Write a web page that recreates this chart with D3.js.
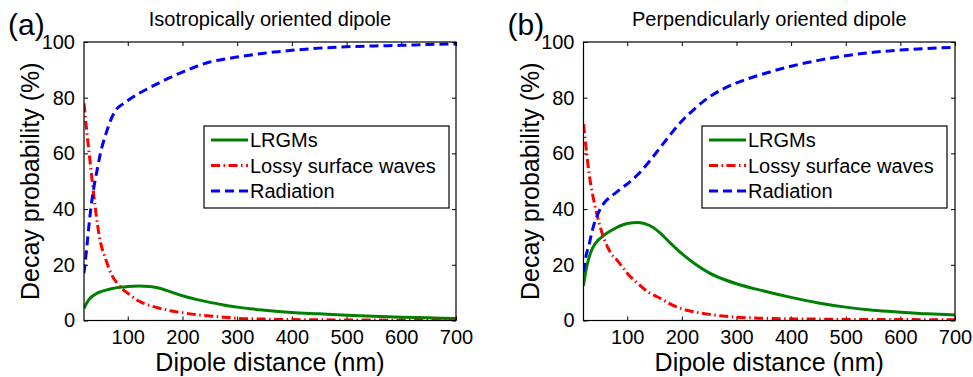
<!DOCTYPE html>
<html>
<head>
<meta charset="utf-8">
<script src="https://cdn.jsdelivr.net/npm/d3@7"></script>
<style>
  html, body { margin: 0; padding: 0; background: #fff; }
  svg { display: block; font-family: "Liberation Sans", Arial, sans-serif; }
</style>
</head>
<body>
<svg id="chart" width="973" height="377"></svg>
<script>
// ---------- data ----------
const distance = [20, 25, 30, 35, 40, 45, 50, 60, 70, 80, 90, 100, 120, 140, 160, 180, 200, 225, 250, 275, 300, 350, 400, 450, 500, 550, 600, 650, 700];

const isoLRGM  = [4.4, 6.3, 7.7, 8.7, 9.3, 9.9, 10.3, 10.9, 11.4, 11.8, 12.0, 12.2, 12.4, 12.2, 11.5, 10.2, 8.9, 7.6, 6.5, 5.6, 4.8, 3.7, 2.9, 2.4, 1.9, 1.5, 1.2, 0.95, 0.7];
const isoLossy = [78, 68, 59, 50, 41.5, 34, 28.3, 21.8, 16.6, 13.5, 11.4, 9.8, 7.0, 5.4, 4.3, 3.4, 2.8, 2.1, 1.6, 1.2, 0.8, 0.5, 0.35, 0.25, 0.2, 0.15, 0.1, 0.1, 0.1];
const isoRad   = [17, 26, 36, 44, 50, 55, 60, 67, 72.5, 76, 77.6, 79, 81.5, 83.6, 85.6, 87.5, 89.2, 91.2, 92.8, 93.8, 94.6, 96, 97, 97.8, 98.3, 98.6, 98.8, 99.1, 99.3];

const perpLRGM  = [12.5, 18.5, 22.5, 25.3, 27.2, 28.5, 29.4, 31, 32.2, 33.3, 34.2, 34.8, 35.2, 34.2, 31.5, 27.6, 24.0, 20.2, 17.1, 14.9, 13.2, 10.6, 8.3, 6.3, 4.8, 3.7, 3.0, 2.4, 2.0];
const perpLossy = [70.5, 61.5, 53, 47, 42, 37.8, 34, 28.2, 24.2, 22, 19.5, 17, 13.2, 10, 8, 5.8, 4.2, 3.0, 2.2, 1.6, 1.2, 0.8, 0.6, 0.5, 0.4, 0.4, 0.35, 0.3, 0.3];
const perpRad   = [17.5, 23.5, 27, 31.5, 35, 37.6, 39.8, 42.7, 44.5, 46, 47.6, 49, 52.5, 57, 62, 67, 71.6, 76.3, 80.2, 83.1, 85.3, 88.6, 91.3, 93.4, 95.1, 96.3, 97.1, 97.7, 98.1];

const xTicks = [100, 200, 300, 400, 500, 600, 700];
const yTicks = [0, 20, 40, 60, 80, 100];
const panelTags = ["(a)", "(b)"];
const panelTitles = ["Isotropically oriented dipole", "Perpendicularly oriented dipole"];
const seriesNames = ["LRGMs", "Lossy surface waves", "Radiation"];
const seriesColors = ["#008000", "#ff0000", "#0000ff"];
const xLabel = "Dipole distance (nm)";
const yLabel = "Decay probability (%)";

// ---------- layout ----------
const svg = d3.select("#chart");
const panels = [
  { left: 84, right: 456, series: [isoLRGM, isoLossy, isoRad], legendX: 204 },
  { left: 583.5, right: 955, series: [perpLRGM, perpLossy, perpRad], legendX: 702 }
];
const plotTop = 42, plotBottom = 320.5;
const dashes = [null, "9,3.5,1.5,3.5", "9,5"];

panels.forEach((p, i) => {
  const x = d3.scaleLinear().domain([20, 700]).range([p.left, p.right]);
  const y = d3.scaleLinear().domain([0, 100]).range([plotBottom, plotTop]);
  const g = svg.append("g");

  const clipId = "clip" + i;
  svg.append("clipPath").attr("id", clipId)
    .append("rect").attr("x", p.left).attr("y", plotTop)
    .attr("width", p.right - p.left).attr("height", plotBottom - plotTop);

  const tickLen = 4;
  const bottomAx = d3.axisBottom(x).tickValues(xTicks).tickSizeInner(-tickLen).tickSizeOuter(0).tickPadding(9);
  const topAx = d3.axisTop(x).tickValues(xTicks).tickSizeInner(-tickLen).tickSizeOuter(0).tickFormat("");
  const leftAx = d3.axisLeft(y).tickValues(yTicks).tickSizeInner(-tickLen).tickSizeOuter(0).tickPadding(9);
  const rightAx = d3.axisRight(y).tickValues(yTicks).tickSizeInner(-tickLen).tickSizeOuter(0).tickFormat("");

  const axes = [
    g.append("g").attr("transform", `translate(0,${plotBottom})`).call(bottomAx),
    g.append("g").attr("transform", `translate(0,${plotTop})`).call(topAx),
    g.append("g").attr("transform", `translate(${p.left},0)`).call(leftAx),
    g.append("g").attr("transform", `translate(${p.right},0)`).call(rightAx)
  ];
  axes.forEach(a => {
    a.select(".domain").remove();
    a.selectAll("line").attr("stroke", "#000").attr("stroke-width", 1);
    a.selectAll("text").attr("font-size", 20).attr("fill", "#000")
      .attr("font-family", "Liberation Sans, Arial, sans-serif");
  });

  const line = d3.line().x((d, k) => x(distance[k])).y(d => y(d)).curve(d3.curveMonotoneX);
  [0, 1, 2].forEach(s => {
    g.append("path")
      .datum(p.series[s])
      .attr("clip-path", `url(#${clipId})`)
      .attr("d", line)
      .attr("fill", "none")
      .attr("stroke", seriesColors[s])
      .attr("stroke-width", 3)
      .attr("stroke-dasharray", dashes[s]);
  });

  g.append("rect").attr("x", p.left).attr("y", plotTop)
    .attr("width", p.right - p.left).attr("height", plotBottom - plotTop)
    .attr("fill", "none").attr("stroke", "#000").attr("stroke-width", 1.2);

  const lx = p.legendX, ly = 126, lw = 245, lh = 82;
  const lg = g.append("g");
  lg.append("rect").attr("x", lx).attr("y", ly).attr("width", lw).attr("height", lh)
    .attr("fill", "#fff").attr("stroke", "#000").attr("stroke-width", 1.2);
  seriesNames.forEach((name, s) => {
    const cy = 140 + s * 25.5;
    lg.append("line").attr("x1", lx + 7).attr("x2", lx + 44).attr("y1", cy).attr("y2", cy)
      .attr("stroke", seriesColors[s]).attr("stroke-width", 3)
      .attr("stroke-dasharray", dashes[s]);
    lg.append("text").attr("x", lx + 46).attr("y", cy + 7)
      .attr("font-size", 20).attr("fill", "#000").text(name);
  });

  const cx = (p.left + p.right) / 2;
  g.append("text").attr("x", cx).attr("y", 26).attr("text-anchor", "middle")
    .attr("font-size", 20).attr("fill", "#000").text(panelTitles[i]);
  g.append("text").attr("x", p.left - 76).attr("y", 35)
    .attr("font-size", 30).attr("fill", "#000").text(panelTags[i]);
  g.append("text").attr("x", cx).attr("y", 370.5).attr("text-anchor", "middle")
    .attr("font-size", 25).attr("fill", "#000").text(xLabel);
  g.append("text")
    .attr("transform", `translate(${p.left - 45},${(plotTop + plotBottom) / 2}) rotate(-90)`)
    .attr("text-anchor", "middle")
    .attr("font-size", 25).attr("fill", "#000").text(yLabel);
});
</script>
</body>
</html>
